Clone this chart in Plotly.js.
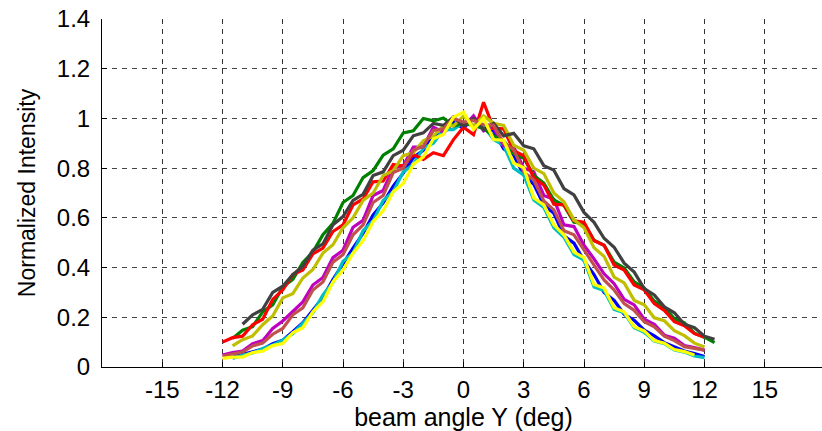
<!DOCTYPE html>
<html>
<head>
<meta charset="utf-8">
<script src="https://cdn.plot.ly/plotly-3.0.1.min.js"></script>
<style>
html,body{margin:0;padding:0;background:#fff;overflow:hidden;}
#chart{width:830px;height:431px;}
</style>
</head>
<body>
<div id="chart"></div>
<script>
// beam angle Y (deg)
const angle = [-12,-11.5,-11,-10.5,-10,-9.5,-9,-8.5,-8,-7.5,-7,-6.5,-6,-5.5,-5,-4.5,-4,-3.5,-3,-2.5,-2,-1.5,-1,-0.5,0,0.5,1,1.5,2,2.5,3,3.5,4,4.5,5,5.5,6,6.5,7,7.5,8,8.5,9,9.5,10,10.5,11,11.5,12,12.5];

const blueI   = [null,0.04,0.05,0.062,0.072,0.094,0.108,0.142,0.178,0.228,0.28,0.352,0.418,0.478,0.538,0.612,0.66,0.728,0.78,0.842,0.872,0.93,0.94,0.985,0.96,1.005,0.958,0.95,0.878,0.852,0.772,0.735,0.652,0.618,0.528,0.498,0.428,0.372,0.3,0.268,0.212,0.188,0.148,0.125,0.098,0.082,0.064,0.054,0.042,null];
const cyanI   = [null,0.034,0.048,0.056,0.074,0.088,0.108,0.134,0.178,0.218,0.29,0.34,0.425,0.458,0.548,0.588,0.67,0.705,0.785,0.815,0.88,0.9,0.955,0.955,0.985,0.97,0.968,0.915,0.892,0.8,0.772,0.672,0.642,0.56,0.522,0.452,0.43,0.322,0.308,0.232,0.218,0.158,0.14,0.104,0.094,0.068,0.06,0.044,0.038,null];
const magentaI= [0.048,0.058,0.064,0.094,0.106,0.155,0.185,0.225,0.262,0.33,0.36,0.44,0.47,0.562,0.59,0.69,0.71,0.8,0.81,0.885,0.885,0.965,0.945,1.005,0.965,1.01,0.95,0.962,0.89,0.885,0.8,0.785,0.69,0.675,0.572,0.565,0.49,0.435,0.375,0.335,0.272,0.25,0.192,0.172,0.128,0.116,0.086,0.078,0.068,null];
const greenI  = [null,0.115,0.148,0.162,0.222,0.25,0.322,0.352,0.42,0.462,0.532,0.578,0.662,0.69,0.762,0.79,0.852,0.878,0.942,0.95,1.0,0.99,1.002,0.97,0.98,0.972,0.96,0.93,0.91,0.858,0.84,0.77,0.74,0.672,0.65,0.582,0.578,0.51,0.49,0.422,0.398,0.342,0.318,0.265,0.24,0.194,0.178,0.136,0.12,0.098];
const redI    = [0.1,0.118,0.124,0.17,0.192,0.272,0.31,0.372,0.39,0.455,0.478,0.545,0.572,0.652,0.676,0.745,0.748,0.815,0.808,0.855,0.835,0.862,0.85,0.915,0.965,0.935,1.065,0.96,0.958,0.87,0.85,0.76,0.732,0.655,0.652,0.588,0.582,0.508,0.49,0.41,0.39,0.33,0.31,0.255,0.228,0.182,0.166,0.134,0.12,null];
const oliveI  = [null,0.085,0.11,0.125,0.17,0.205,0.278,0.295,0.358,0.392,0.458,0.492,0.56,0.6,0.67,0.7,0.77,0.79,0.85,0.862,0.91,0.93,0.97,0.97,1.01,0.968,1.01,0.98,0.972,0.892,0.872,0.8,0.778,0.7,0.665,0.592,0.56,0.48,0.445,0.362,0.338,0.268,0.25,0.198,0.186,0.146,0.126,0.096,0.08,null];
const grayI   = [null,null,0.172,0.21,0.232,0.3,0.325,0.372,0.405,0.47,0.495,0.572,0.605,0.67,0.695,0.77,0.785,0.85,0.872,0.93,0.942,0.98,0.972,1.005,0.97,1.0,0.955,0.98,0.93,0.94,0.89,0.878,0.81,0.792,0.718,0.692,0.622,0.582,0.518,0.482,0.418,0.382,0.315,0.29,0.242,0.218,0.172,0.158,0.124,0.112];
const brownI  = [0.044,0.052,0.06,0.085,0.096,0.132,0.155,0.21,0.238,0.31,0.342,0.422,0.452,0.532,0.572,0.662,0.69,0.782,0.8,0.872,0.888,0.952,0.958,1.0,0.985,0.992,0.975,0.972,0.9,0.875,0.785,0.752,0.668,0.632,0.548,0.532,0.468,0.41,0.35,0.31,0.255,0.228,0.182,0.162,0.124,0.106,0.082,0.074,0.068,null];
const yellowI = [0.035,0.04,0.04,0.058,0.064,0.086,0.094,0.138,0.158,0.222,0.262,0.342,0.39,0.458,0.508,0.585,0.628,0.705,0.738,0.815,0.845,0.918,0.935,1.005,1.025,0.955,1.0,0.915,0.912,0.82,0.802,0.68,0.652,0.572,0.532,0.462,0.44,0.332,0.318,0.238,0.222,0.162,0.145,0.106,0.096,0.07,0.062,0.048,null,null];

const series = [
  {y: blueI,    color: '#0000ff'},
  {y: cyanI,    color: '#00bfbf'},
  {y: magentaI, color: '#bf00bf'},
  {y: greenI,   color: '#008000'},
  {y: redI,     color: '#ff0000'},
  {y: oliveI,   color: '#bfbf00'},
  {y: grayI,    color: '#404040'},
  {y: brownI,   color: '#c0504d'},
  {y: yellowI,  color: '#ffff00'}
];

const xTicks = [-15,-12,-9,-6,-3,0,3,6,9,12,15];

const traces = series.map(s => ({
  x: angle, y: s.y, type: 'scatter', mode: 'lines',
  line: {color: s.color, width: 3.2}, connectgaps: false, hoverinfo: 'skip'
}));

const fam = 'Liberation Sans, Arial, sans-serif';
const tickFont = {family: fam, size: 24, color: '#000'};

const layout = {
  width: 830, height: 431,
  margin: {l: 102, r: 5, t: 19, b: 64},
  paper_bgcolor: '#fff', plot_bgcolor: '#fff',
  showlegend: false,
  xaxis: {
    range: [-18, 18], tickvals: xTicks, ticktext: xTicks.map(String),
    ticks: 'inside', ticklen: 5, tickcolor: '#000',
    showline: true, linecolor: '#000', linewidth: 1, mirror: false,
    showgrid: true, gridcolor: '#333', griddash: '5px,5px', gridwidth: 1,
    zeroline: false, tickfont: tickFont, ticklabelstandoff: 1,
    title: {text: 'beam angle Y (deg)', font: {family: fam, size: 25, color: '#000'}, standoff: 2}
  },
  yaxis: {
    range: [0, 1.4], dtick: 0.2, tick0: 0,
    ticks: 'inside', ticklen: 5, tickcolor: '#000',
    showline: true, linecolor: '#000', linewidth: 1, mirror: false,
    showgrid: true, gridcolor: '#444', griddash: '5px,5px', gridwidth: 1,
    zeroline: false, tickfont: tickFont, ticklabelstandoff: 6,
    title: {text: 'Normalized Intensity', font: {family: fam, size: 23, color: '#000'}, standoff: 14}
  }
};

Plotly.newPlot('chart', traces, layout, {staticPlot: true, displayModeBar: false});
</script>
</body>
</html>
